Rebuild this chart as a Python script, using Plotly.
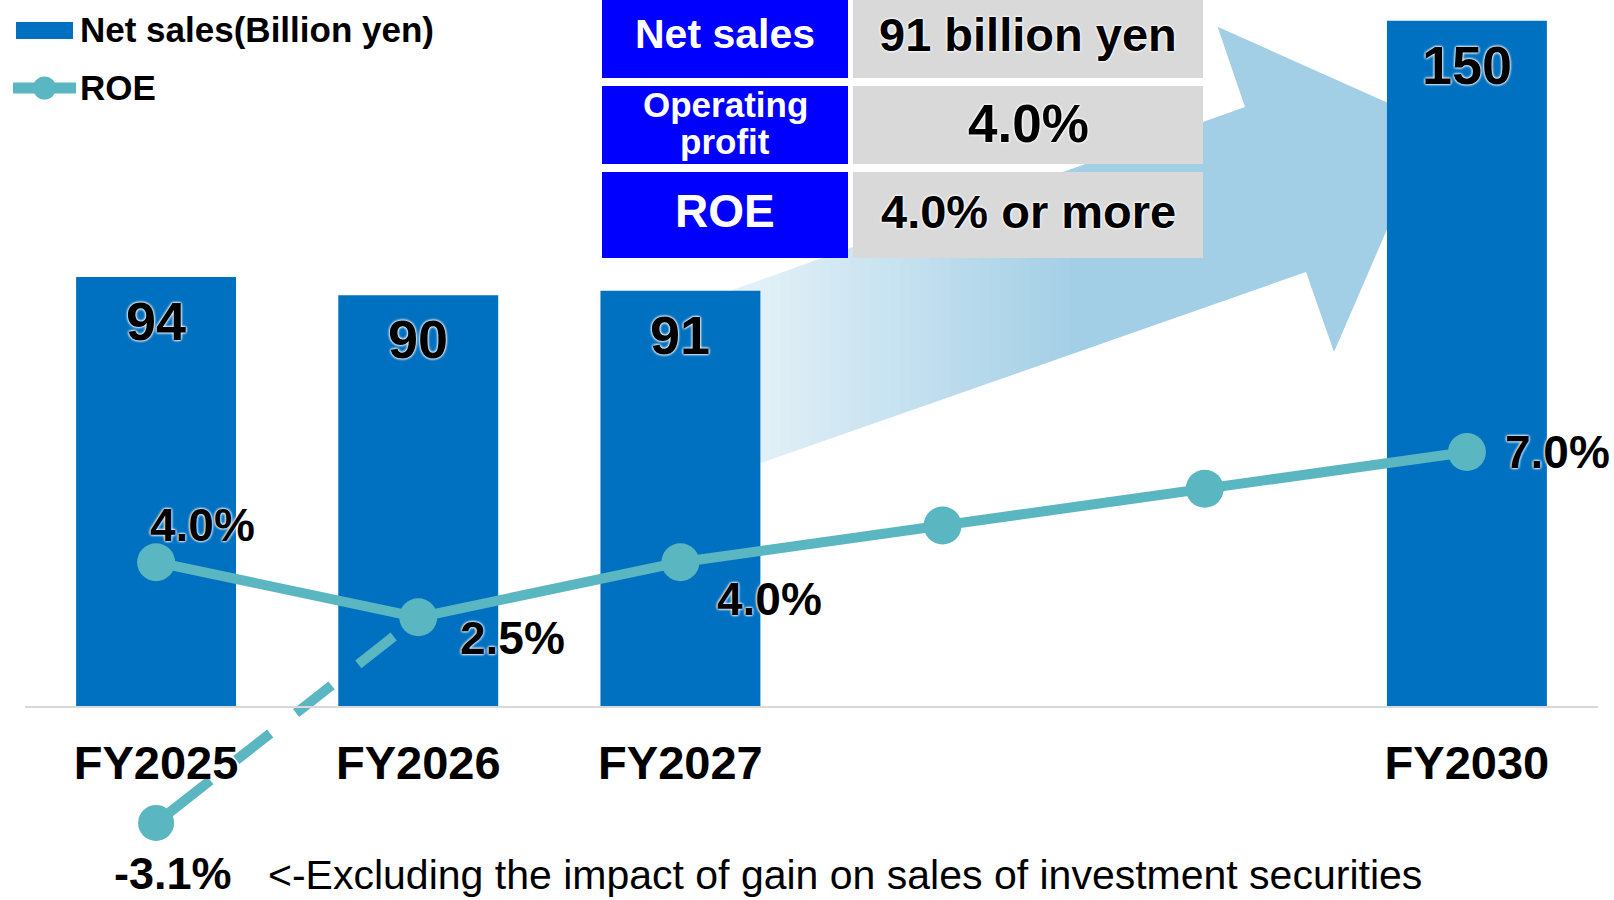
import plotly.graph_objects as go

# ---------------- data ----------------
categories = ["FY2025", "FY2026", "FY2027", "FY2028", "FY2029", "FY2030"]
tick_labels = ["FY2025", "FY2026", "FY2027", "", "", "FY2030"]
net_sales = [94, 90, 91, None, None, 150]          # Billion yen
roe = [4.0, 2.5, 4.0, 5.0, 6.0, 7.0]                # %
roe_labels = ["4.0%", "2.5%", "4.0%", "", "", "7.0%"]
roe_excl_category = "FY2025"
roe_excl_value = -3.1
roe_excl_label = "-3.1%"
note_text = "<-Excluding the impact of gain on sales of investment securities"
legend_names = ["Net sales(Billion yen)", "ROE"]
table_left = [["Net sales"], ["Operating", "profit"], ["ROE"]]
table_right = ["91 billion yen", "4.0%", "4.0% or more"]

# ---------------- styling ----------------
W, H = 1614, 900
FONT = "Liberation Sans, Arial, Helvetica, sans-serif"
BAR_COLOR = "#0070C0"
LINE_COLOR = "#5AB6C0"
GLOW = "0px 0px 3px #ffffff, 0px 0px 3px #ffffff, 0px 0px 2px #ffffff"


def px(x):
    return x / W


def py(y):
    return 1 - y / H


fig = go.Figure()

fig.add_trace(go.Bar(
    x=categories, y=net_sales, name=legend_names[0],
    marker=dict(color=BAR_COLOR, line=dict(width=0)),
    showlegend=False, hoverinfo="x+y",
))

# dashed connector: ROE excluding gain (FY2025) -> FY2026
fig.add_trace(go.Scatter(
    x=[roe_excl_category, categories[1]], y=[roe_excl_value, roe[1]],
    yaxis="y2", mode="lines", showlegend=False,
    line=dict(color=LINE_COLOR, width=10, dash="69px,33px,43px,33px,45px,34px,45px,200px"),
    cliponaxis=False, hoverinfo="skip",
))
fig.add_trace(go.Scatter(
    x=[roe_excl_category], y=[roe_excl_value], name="ROE (excluding gain)",
    yaxis="y2", mode="markers", showlegend=False,
    marker=dict(color=LINE_COLOR, size=36, opacity=1, line=dict(width=0)),
    cliponaxis=False,
))

fig.add_trace(go.Scatter(
    x=categories, y=roe, name=legend_names[1], yaxis="y2",
    mode="lines+markers", showlegend=False,
    line=dict(color=LINE_COLOR, width=10),
    marker=dict(color=LINE_COLOR, size=38, opacity=1, line=dict(width=0)),
    cliponaxis=False,
))

annotations = []
shapes = []

# bar value labels
for c, v in zip(categories, net_sales):
    if v is None:
        continue
    annotations.append(dict(
        x=c, y=v, xref="x", yref="y", text=str(v), showarrow=False,
        yanchor="middle", yshift=-44,
        font=dict(family=FONT, size=54, color="black", weight="bold", shadow=GLOW),
    ))

# ROE labels (pixel offsets from each point)
roe_offsets = {"FY2025": (46, 37), "FY2026": (94, -21), "FY2027": (89, -37), "FY2030": (91, 0)}
for c, v, t in zip(categories, roe, roe_labels):
    if not t:
        continue
    dx, dy = roe_offsets[c]
    annotations.append(dict(
        x=c, y=v, xref="x", yref="y2", text=t, showarrow=False,
        xshift=dx, yshift=dy,
        font=dict(family=FONT, size=46, color="black", weight="bold", shadow=GLOW),
    ))

annotations.append(dict(
    x=roe_excl_category, y=roe_excl_value, xref="x", yref="y2", text=roe_excl_label,
    showarrow=False, xshift=17, yshift=-51,
    font=dict(family=FONT, size=45, color="black", weight="bold"),
))
annotations.append(dict(
    x=px(266), y=py(875), xref="paper", yref="paper", text=note_text,
    showarrow=False, xanchor="left", yanchor="middle",
    font=dict(family=FONT, size=41, color="black"),
))

# ---------------- custom legend ----------------
shapes.append(dict(type="rect", xref="paper", yref="paper",
                   x0=px(16), x1=px(73), y0=py(39), y1=py(22),
                   fillcolor=BAR_COLOR, line=dict(width=0), layer="above"))
shapes.append(dict(type="line", xref="paper", yref="paper",
                   x0=px(13), x1=px(76), y0=py(88), y1=py(88),
                   line=dict(color=LINE_COLOR, width=11), layer="above"))
shapes.append(dict(type="circle", xref="paper", yref="paper",
                   x0=px(33), x1=px(56), y0=py(99.5), y1=py(76.5),
                   fillcolor=LINE_COLOR, line=dict(width=0), layer="above"))
annotations.append(dict(x=px(78), y=py(29), xref="paper", yref="paper",
                        text=legend_names[0], showarrow=False, xanchor="left", yanchor="middle",
                        font=dict(family=FONT, size=35, color="black", weight="bold")))
annotations.append(dict(x=px(78), y=py(87), xref="paper", yref="paper",
                        text=legend_names[1], showarrow=False, xanchor="left", yanchor="middle",
                        font=dict(family=FONT, size=35, color="black", weight="bold")))

# ---------------- big gradient arrow (decoration) ----------------
arrow_poly = [(700, 301.6), (1245, 107), (1217.6, 26.7), (1433, 123),
              (1334, 352), (1306, 272), (700, 484.4)]


def clip_half(poly, keep, cut):
    out = []
    n = len(poly)
    for i in range(n):
        cur, prev = poly[i], poly[i - 1]
        if keep(cur):
            if not keep(prev):
                out.append(cut(prev, cur))
            out.append(cur)
        elif keep(prev):
            out.append(cut(prev, cur))
    return out


def clip_slab(poly, xa, xb):
    def cut_at(c):
        def f(p, q):
            t = (c - p[0]) / (q[0] - p[0])
            return (c, p[1] + t * (q[1] - p[1]))
        return f
    p = clip_half(poly, lambda q: q[0] >= xa, cut_at(xa))
    if not p:
        return p
    return clip_half(p, lambda q: q[0] <= xb, cut_at(xb))


c0 = (226, 240, 247)
c1 = (162, 206, 230)
g0, g1 = 761, 1080
edges = list(range(700, 1100, 10)) + [1500]
for i in range(len(edges) - 1):
    xa, xb = edges[i], edges[i + 1]
    piece = clip_slab(arrow_poly, xa, xb + 0.8)
    if len(piece) < 3:
        continue
    xm = (xa + xb) / 2 if xb < 1500 else g1
    t = min(max((xm - g0) / (g1 - g0), 0), 1)
    col = tuple(round(c0[k] + t * (c1[k] - c0[k])) for k in range(3))
    path = "M " + " L ".join(f"{px(x):.5f},{py(y):.5f}" for x, y in piece) + " Z"
    shapes.append(dict(type="path", xref="paper", yref="paper", path=path,
                       fillcolor=f"rgb{col}", line=dict(width=0), layer="below"))

# ---------------- summary table ----------------
row_bounds = [(0, 78), (86, 164), (172, 258)]
row_text_y = [34, 123, 211]
left_x = (602, 848)
right_x = (853, 1203)
left_sizes = [41, 35, 46]
right_sizes = [47, 53, 47]
for (y0, y1), ty, lt, rt, ls, rs in zip(row_bounds, row_text_y, table_left, table_right,
                                         left_sizes, right_sizes):
    shapes.append(dict(type="rect", xref="paper", yref="paper",
                       x0=px(left_x[0]), x1=px(left_x[1]), y0=py(y1), y1=py(y0),
                       fillcolor="#0000FF", line=dict(width=0), layer="above"))
    shapes.append(dict(type="rect", xref="paper", yref="paper",
                       x0=px(right_x[0]), x1=px(right_x[1]), y0=py(y1), y1=py(y0),
                       fillcolor="#D9D9D9", line=dict(width=0), layer="above"))
    n = len(lt)
    for j, line_text in enumerate(lt):
        ly = ty + (j - (n - 1) / 2) * 37
        annotations.append(dict(x=px(sum(left_x) / 2), y=py(ly), xref="paper", yref="paper",
                                text=line_text, showarrow=False, xanchor="center", yanchor="middle",
                                font=dict(family=FONT, size=ls, color="white", weight="bold")))
    annotations.append(dict(x=px(sum(right_x) / 2), y=py(ty), xref="paper", yref="paper",
                            text=rt, showarrow=False, xanchor="center", yanchor="middle",
                            font=dict(family=FONT, size=rs, color="black", weight="bold",
                                      shadow=GLOW)))

# ---------------- axes / layout ----------------
BASE_Y = 707
bar_px_per_unit = (BASE_Y - 20.7) / 150
roe_zero_y = 709.1
roe_px_per_unit = 36.73

fig.update_layout(
    width=W, height=H,
    margin=dict(l=0, r=0, t=0, b=0, pad=0),
    paper_bgcolor="white", plot_bgcolor="rgba(0,0,0,0)",
    showlegend=False, bargap=0.39,
    font=dict(family=FONT, color="black"),
    xaxis=dict(
        type="category", categoryorder="array", categoryarray=categories,
        range=[-0.5, 5.5], domain=[px(25), px(1598)],
        anchor="free", position=(H - BASE_Y) / H,
        showline=True, linecolor="#D9D9D9", linewidth=2,
        tickmode="array", tickvals=categories, ticktext=tick_labels,
        ticks="", ticklabelstandoff=15,
        tickfont=dict(family=FONT, size=47, color="black", weight="bold"),
        showgrid=False, zeroline=False, fixedrange=True,
    ),
    yaxis=dict(
        range=[-(H - BASE_Y) / bar_px_per_unit, 150 + 20.7 / bar_px_per_unit],
        domain=[0, 1], visible=False, showgrid=False, zeroline=False, fixedrange=True,
    ),
    yaxis2=dict(
        range=[-(H - roe_zero_y) / roe_px_per_unit, roe_zero_y / roe_px_per_unit],
        overlaying="y", visible=False, showgrid=False, zeroline=False, fixedrange=True,
    ),
    annotations=annotations,
    shapes=shapes,
)

fig.write_html("out.html", config={"displayModeBar": False},
               post_script="document.body.style.margin='0';document.body.style.overflow='hidden';")
